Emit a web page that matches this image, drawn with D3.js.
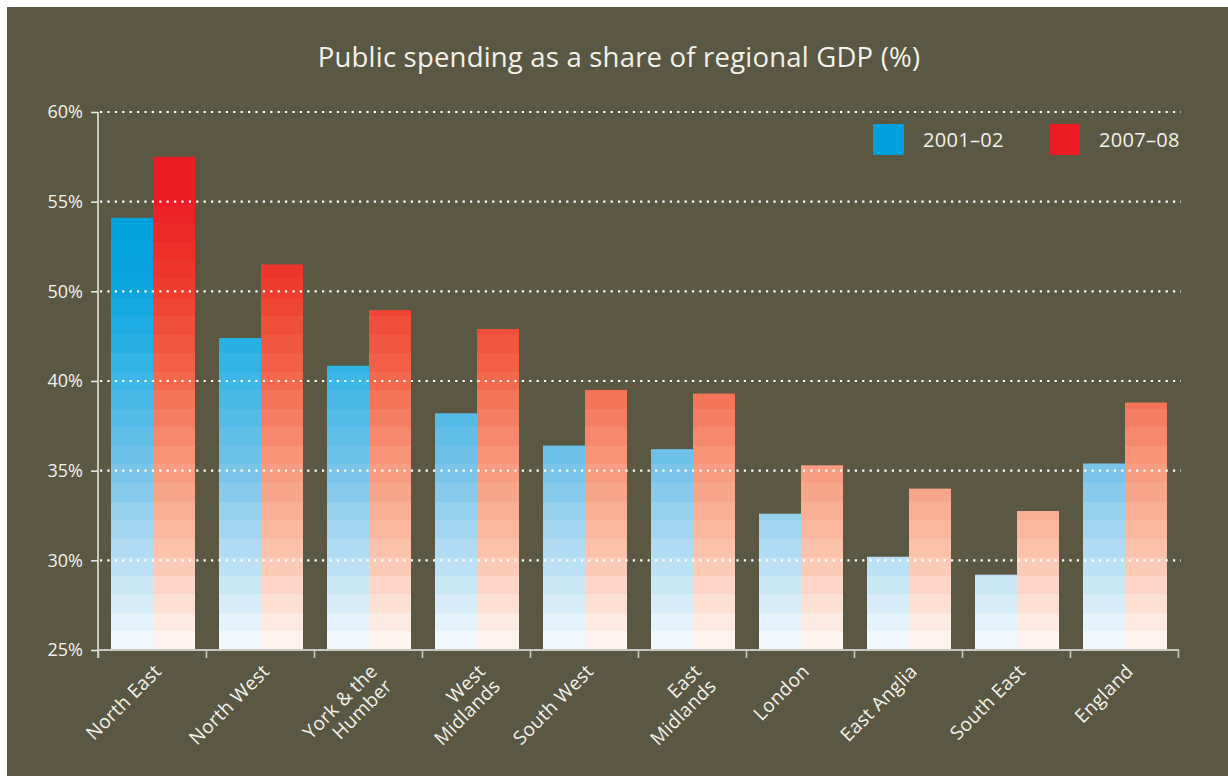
<!DOCTYPE html>
<html><head><meta charset="utf-8">
<script src="https://cdn.jsdelivr.net/npm/d3@7"></script>
<style>
body{margin:0;background:#fff;}
text{font-family:"Open Sans",sans-serif;}
</style>
</head><body>
<svg id="c" width="1228" height="776"></svg>
<script>
// ---- data ----
const categories = ["North East","North West","York & the\nHumber","West\nMidlands","South West","East\nMidlands","London","East Anglia","South East","England"];
const seriesNames = ["2001–02","2007–08"];
const values2001 = [54.1, 44.8, 41.7, 38.2, 36.4, 36.2, 32.6, 30.2, 29.2, 35.4];
const values2007 = [57.5, 51.5, 47.9, 45.8, 39.5, 39.3, 35.3, 34.0, 32.75, 38.8];
const tickValues = [25, 30, 35, 40, 50, 55, 60];
const tickLabels = ["25%","30%","35%","40%","50%","55%","60%"];
const chartTitle = "Public spending as a share of regional GDP (%)";

const bg = "#5a5843";
const fg = "#f2f1ea";
const fullColors = ["#00a0dc", "#ed1c24"];
const rampStops = [
  ["#f0f8fd","#b3dcf2","#72c1e8","#38b6e6","#0aa4de","#00a0dc"],
  ["#fdf4f0","#fbc3ac","#f7977b","#f1654a","#ee3a2c","#ed1c24"]
];

const svg = d3.select("#c");
svg.append("rect").attr("x",7).attr("y",7).attr("width",1221).attr("height",769).attr("fill",bg);

const pL = 98, pR = 1178, pT = 112, pB = 650;
const y = d3.scaleLinear().domain(tickValues)
  .range(tickValues.map((d,i)=> pB - i*(pB-pT)/(tickValues.length-1)));
const x = d3.scaleBand().domain(categories).range([pL,pR]).padding(0);
const x1 = d3.scaleBand().domain(seriesNames).range([13, 97]).padding(0);

// stepped gradients
const defs = svg.append("defs");
const nBands = 29;
seriesNames.forEach((s,si)=>{
  const interp = d3.piecewise(d3.interpolateRgb, rampStops[si]);
  const g = defs.append("linearGradient").attr("id","g"+si)
    .attr("gradientUnits","userSpaceOnUse")
    .attr("x1",0).attr("x2",0).attr("y1",y(25)).attr("y2",y(60));
  for(let k=0;k<nBands;k++){
    const c = interp(Math.min(1,k/24));
    g.append("stop").attr("offset",k/nBands).attr("stop-color",c);
    g.append("stop").attr("offset",(k+1)/nBands).attr("stop-color",c);
  }
});

// bars
const seriesValues = [values2001, values2007];
seriesNames.forEach((s,si)=>{
  svg.append("g").selectAll("rect").data(categories).join("rect")
    .attr("x", d=> x(d)+x1(s))
    .attr("width", x1.bandwidth())
    .attr("y", (d,i)=> y(seriesValues[si][i]))
    .attr("height", (d,i)=> y(25)-y(seriesValues[si][i]))
    .attr("fill","url(#g"+si+")");
});

// dotted gridlines (on top of bars)
svg.append("g").selectAll("line").data(tickValues.slice(1)).join("line")
  .attr("x1",pL+2).attr("x2",pR+3)
  .attr("y1",d=>y(d)).attr("y2",d=>y(d))
  .attr("stroke","#ffffff").attr("stroke-width",2.2)
  .attr("stroke-dasharray","2.2,5.2");

// y axis
const yAxis = d3.axisLeft(y).tickValues(tickValues).tickSize(7).tickPadding(8)
  .tickFormat((d,i)=>tickLabels[i]);
const gy = svg.append("g").attr("transform",`translate(${pL},0)`).call(yAxis);
gy.select(".domain").remove();
gy.selectAll(".tick line").attr("stroke","#e6e5de").attr("stroke-width",1.6);
gy.selectAll(".tick text").attr("fill",fg).attr("font-size",18).attr("font-family","Open Sans");
svg.append("line").attr("x1",pL).attr("x2",pL).attr("y1",pT).attr("y2",pB+8)
  .attr("stroke","#e6e5de").attr("stroke-width",1.6);

// x axis
svg.append("line").attr("x1",pL).attr("x2",pR+1).attr("y1",pB).attr("y2",pB)
  .attr("stroke","#c9c8c0").attr("stroke-width",1.8);
const boundaries = categories.map(c=>x(c)).concat([pR]);
svg.append("g").selectAll("line").data(boundaries).join("line")
  .attr("x1",d=>d+0.5).attr("x2",d=>d+0.5).attr("y1",pB).attr("y2",pB+8)
  .attr("stroke","#c9c8c0").attr("stroke-width",1.6);

// x labels
const xl = svg.append("g").selectAll("text").data(categories).join("text")
  .attr("transform", d=>`translate(${x(d)+x.bandwidth()/2+1},${pB+13}) rotate(-45)`)
  .attr("text-anchor","end").attr("fill",fg).attr("font-size",19).attr("letter-spacing",0.3);
xl.each(function(d){
  const lines = d.split("\n");
  d3.select(this).selectAll("tspan").data(lines).join("tspan")
    .attr("x",0).attr("dy",(l,i)=> i===0 ? "0.71em" : "1.1em").text(l=>l);
});

// legend
const lgX = [873, 1049];
seriesNames.forEach((s,si)=>{
  svg.append("rect").attr("x",lgX[si]).attr("y",124).attr("width",31).attr("height",31).attr("fill",fullColors[si]);
  svg.append("text").attr("x",lgX[si]+50).attr("y",147).attr("fill",fg).attr("font-size",20).attr("letter-spacing",0.3).text(s);
});

// title
svg.append("text").attr("x",619).attr("y",67).attr("text-anchor","middle")
  .attr("fill",fg).attr("font-size",27.5).attr("letter-spacing",0.2).text(chartTitle);
</script>
</body></html>
